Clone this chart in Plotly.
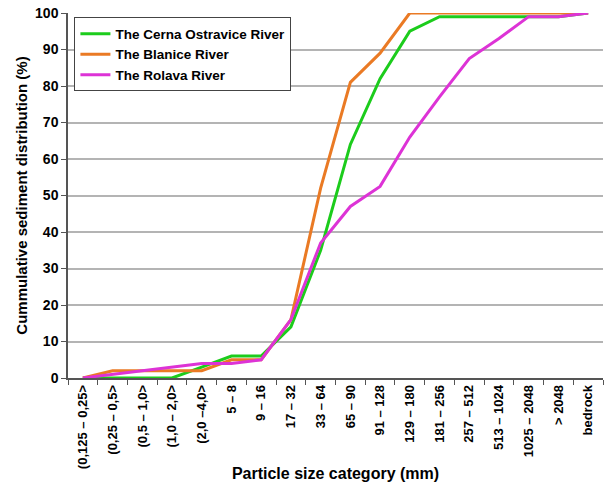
import plotly.graph_objects as go

# Particle size categories (mm)
categories = [
    "(0,125 – 0,25>", "(0,25 – 0,5>", "(0,5 – 1,0>", "(1,0 – 2,0>", "(2,0 –4,0>",
    "5 – 8", "9 – 16", "17 – 32", "33 – 64", "65 – 90", "91 – 128", "129 – 180",
    "181 – 256", "257 – 512", "513 – 1024", "1025 – 2048", "> 2048", "bedrock",
]

# Cumulative sediment distribution (%)
cerna = [0, 0, 0, 0, 3, 6, 6, 14, 35, 64, 82, 95, 99, 99, 99, 99, 99, 100]
blanice = [0, 2, 2, 2, 2, 5, 5, 16, 52, 81, 89, 100, 100, 100, 100, 100, 100, 100]
rolava = [0, 1, 2, 3, 4, 4, 5, 16, 37, 47, 52.5, 66, 77, 87.5, 93, 99, 99, 100]

series = [
    ("The Cerna Ostravice River", cerna, "#1ccc1c"),
    ("The Blanice River", blanice, "#ea7a24"),
    ("The Rolava River", rolava, "#dd33d6"),
]

FONT = "Liberation Sans, Arial, sans-serif"

fig = go.Figure()
for name, vals, color in series:
    fig.add_trace(go.Scatter(
        x=categories, y=vals, name=name, mode="lines",
        line=dict(color=color, width=3),
    ))

fig.update_layout(
    width=605, height=484,
    margin=dict(l=68, r=2, t=13, b=106),
    plot_bgcolor="white", paper_bgcolor="white",
    font=dict(family=FONT, size=12, color="black"),
    showlegend=True,
    legend=dict(
        x=0.012, y=0.988, xanchor="left", yanchor="top",
        bgcolor="white", bordercolor="#444444", borderwidth=1,
        font=dict(family=FONT, size=13.5, color="black", weight="bold"),
        tracegroupgap=0, itemwidth=30,
    ),
    xaxis=dict(
        type="category", range=[-0.5, 17.5], automargin=False,
        tickangle=-90, tickson="boundaries",
        ticks="outside", ticklen=5, tickcolor="#555555",
        showline=True, linecolor="#555555", linewidth=1.5,
        showgrid=False,
        tickfont=dict(family=FONT, size=13, color="black", weight="bold"),
        title=dict(text="Particle size category (mm)",
                   font=dict(family=FONT, size=16, color="black", weight="bold"),
                   standoff=0),
    ),
    yaxis=dict(
        range=[0, 100], dtick=10, automargin=False,
        ticks="outside", ticklen=5, tickcolor="#555555",
        showline=True, linecolor="#555555", linewidth=1.5,
        showgrid=True, gridcolor="#b4b4b4", gridwidth=1.5,
        zeroline=False,
        tickfont=dict(family=FONT, size=14, color="black", weight="bold"),
        title=dict(text="Cummulative sediment distribution (%)",
                   font=dict(family=FONT, size=15, color="black", weight="bold"),
                   standoff=4),
    ),
)

fig.write_html("out.html")
